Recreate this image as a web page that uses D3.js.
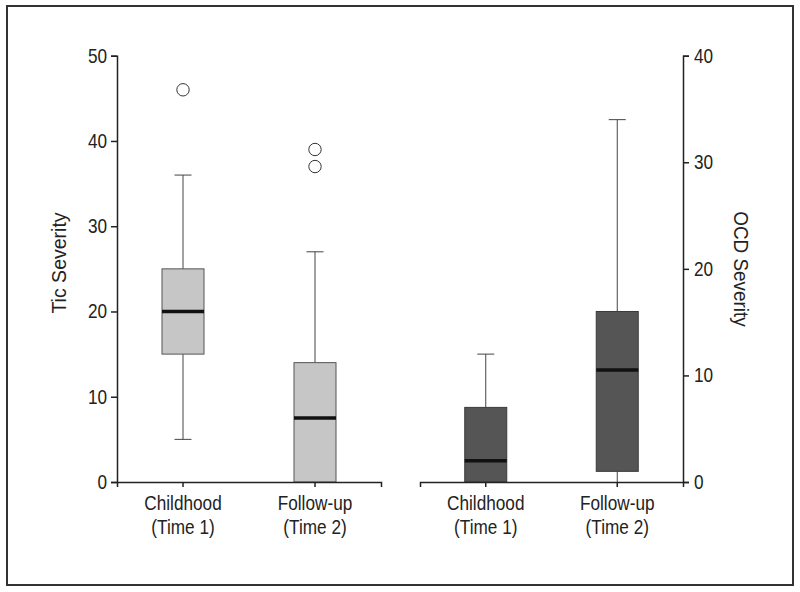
<!DOCTYPE html>
<html>
<head>
<meta charset="utf-8">
<script src="https://cdn.jsdelivr.net/npm/d3@7"></script>
<style>
  html, body { margin: 0; padding: 0; background: #fff; }
  svg { display: block; }
  text { font-family: "Liberation Sans", Arial, sans-serif; fill: #222; }
</style>
</head>
<body>
<svg id="chart" width="800" height="592"></svg>
<script>
// ---- Data ----
const categories = ["Childhood|(Time 1)", "Follow-up|(Time 2)"];

// Tic severity (left axis)
const ticMin      = [5, 0];
const ticQ1       = [15, 0];
const ticMedian   = [20, 7.5];
const ticQ3       = [25, 14];
const ticMax      = [36, 27];
const ticOutliers = [[46], [39, 37]];
const ticTicks    = [0, 10, 20, 30, 40, 50];

// OCD severity (right axis)
const ocdMin      = [0, 0];
const ocdQ1       = [0, 1];
const ocdMedian   = [2, 10.5];
const ocdQ3       = [7, 16];
const ocdMax      = [12, 34];
const ocdOutliers = [[], []];
const ocdTicks    = [0, 10, 20, 30, 40];

// ---- Layout ----
const svg = d3.select("#chart");
const yTop = 55.7, yBottom = 482;
const SX = 0.86;       // horizontal condensing of label glyphs
const fontSize = 20;

svg.append("rect")
  .attr("x", 7).attr("y", 6).attr("width", 786).attr("height", 579)
  .attr("fill", "none").attr("stroke", "#333").attr("stroke-width", 2);

const yLeft = d3.scaleLinear().domain([0, 50]).range([yBottom, yTop]);
const yRight = d3.scaleLinear().domain([0, 40]).range([yBottom, yTop]);

const xLeft = d3.scaleBand().domain(categories).range([117, 381]);
const xRight = d3.scaleBand().domain(categories).range([420, 683]);

function buildRows(mins, q1s, meds, q3s, maxs, outs) {
  return categories.map((c, i) => ({
    cat: c, min: mins[i], q1: q1s[i], med: meds[i], q3: q3s[i], max: maxs[i], out: outs[i]
  }));
}

const ticRows = buildRows(ticMin, ticQ1, ticMedian, ticQ3, ticMax, ticOutliers);
const ocdRows = buildRows(ocdMin, ocdQ1, ocdMedian, ocdQ3, ocdMax, ocdOutliers);

const boxW = 42, capW = 17;

function drawBoxes(rows, x, y, fill, stroke) {
  const g = svg.append("g");
  const b = g.selectAll("g.box").data(rows).join("g").attr("class", "box")
    .attr("transform", d => `translate(${x(d.cat) + x.bandwidth() / 2},0)`);
  b.append("line").attr("x1", 0).attr("x2", 0)
    .attr("y1", d => y(d.q3)).attr("y2", d => y(d.max))
    .attr("stroke", "#444").attr("stroke-width", 1);
  b.append("line").attr("x1", 0).attr("x2", 0)
    .attr("y1", d => y(d.q1)).attr("y2", d => y(d.min))
    .attr("stroke", "#444").attr("stroke-width", 1);
  b.append("line").attr("x1", -capW / 2).attr("x2", capW / 2)
    .attr("y1", d => y(d.max)).attr("y2", d => y(d.max))
    .attr("stroke", "#444").attr("stroke-width", 1);
  b.filter(d => d.min > 0).append("line").attr("x1", -capW / 2).attr("x2", capW / 2)
    .attr("y1", d => y(d.min)).attr("y2", d => y(d.min))
    .attr("stroke", "#444").attr("stroke-width", 1);
  b.append("rect")
    .attr("x", -boxW / 2).attr("width", boxW)
    .attr("y", d => y(d.q3)).attr("height", d => y(d.q1) - y(d.q3))
    .attr("fill", fill).attr("stroke", stroke).attr("stroke-width", 1);
  b.append("line").attr("x1", -boxW / 2).attr("x2", boxW / 2)
    .attr("y1", d => y(d.med)).attr("y2", d => y(d.med))
    .attr("stroke", "#111").attr("stroke-width", 3.5);
  b.selectAll("circle").data(d => d.out).join("circle")
    .attr("cx", 0).attr("cy", v => y(v)).attr("r", 6.2)
    .attr("fill", "#fff").attr("stroke", "#333").attr("stroke-width", 1);
}

drawBoxes(ticRows, xLeft, yLeft, "#c6c6c6", "#555");
drawBoxes(ocdRows, xRight, yRight, "#555555", "#3a3a3a");

// condense a text element horizontally around its anchor point
function condense(sel) {
  sel.each(function () {
    const t = d3.select(this);
    const x = +t.attr("x") || 0, y = +t.attr("y") || 0;
    const dy = t.attr("dy");
    t.attr("x", 0).attr("y", 0)
     .attr("transform", `translate(${x},${y}) scale(${SX},1)`);
    if (dy) t.attr("dy", dy);
  });
}

function styleAxis(g) {
  g.select(".domain").attr("stroke", "#222").attr("stroke-width", 1.5);
  g.selectAll(".tick line").attr("stroke", "#222").attr("stroke-width", 1.5);
  g.selectAll(".tick text").attr("font-size", fontSize).attr("fill", "#222")
    .style("font-family", '"Liberation Sans", Arial, sans-serif');
}

const gyl = svg.append("g").attr("transform", "translate(117,0)")
  .call(d3.axisLeft(yLeft).tickValues(ticTicks).tickSizeOuter(0).tickSize(6).tickPadding(4));
styleAxis(gyl);
condense(gyl.selectAll(".tick text"));

const gyr = svg.append("g").attr("transform", "translate(683,0)")
  .call(d3.axisRight(yRight).tickValues(ocdTicks).tickSizeOuter(0).tickSize(6).tickPadding(5));
styleAxis(gyr);
condense(gyr.selectAll(".tick text"));

function xAxis(x) {
  const g = svg.append("g").attr("transform", `translate(0,${yBottom})`)
    .call(d3.axisBottom(x).tickSizeOuter(0).tickSize(5).tickFormat(""));
  styleAxis(g);
  g.selectAll(".tick").each(function (d) {
    const parts = d.split("|");
    const t = d3.select(this).append("text")
      .attr("text-anchor", "middle").attr("font-size", fontSize).attr("fill", "#222")
      .attr("transform", `translate(0,28) scale(${SX},1)`);
    parts.forEach((p, i) => t.append("tspan").attr("x", 0).attr("dy", i === 0 ? 0 : 24).text(p));
  });
}
xAxis(xLeft);
xAxis(xRight);

// ---- Axis titles ----
svg.append("text")
  .attr("transform", "translate(66,263) rotate(-90) scale(0.93,1)")
  .attr("text-anchor", "middle").attr("font-size", 21)
  .text("Tic Severity");

svg.append("text")
  .attr("transform", "translate(734,269) rotate(90) scale(0.9,1)")
  .attr("text-anchor", "middle").attr("font-size", 21)
  .text("OCD Severity");
</script>
</body>
</html>
